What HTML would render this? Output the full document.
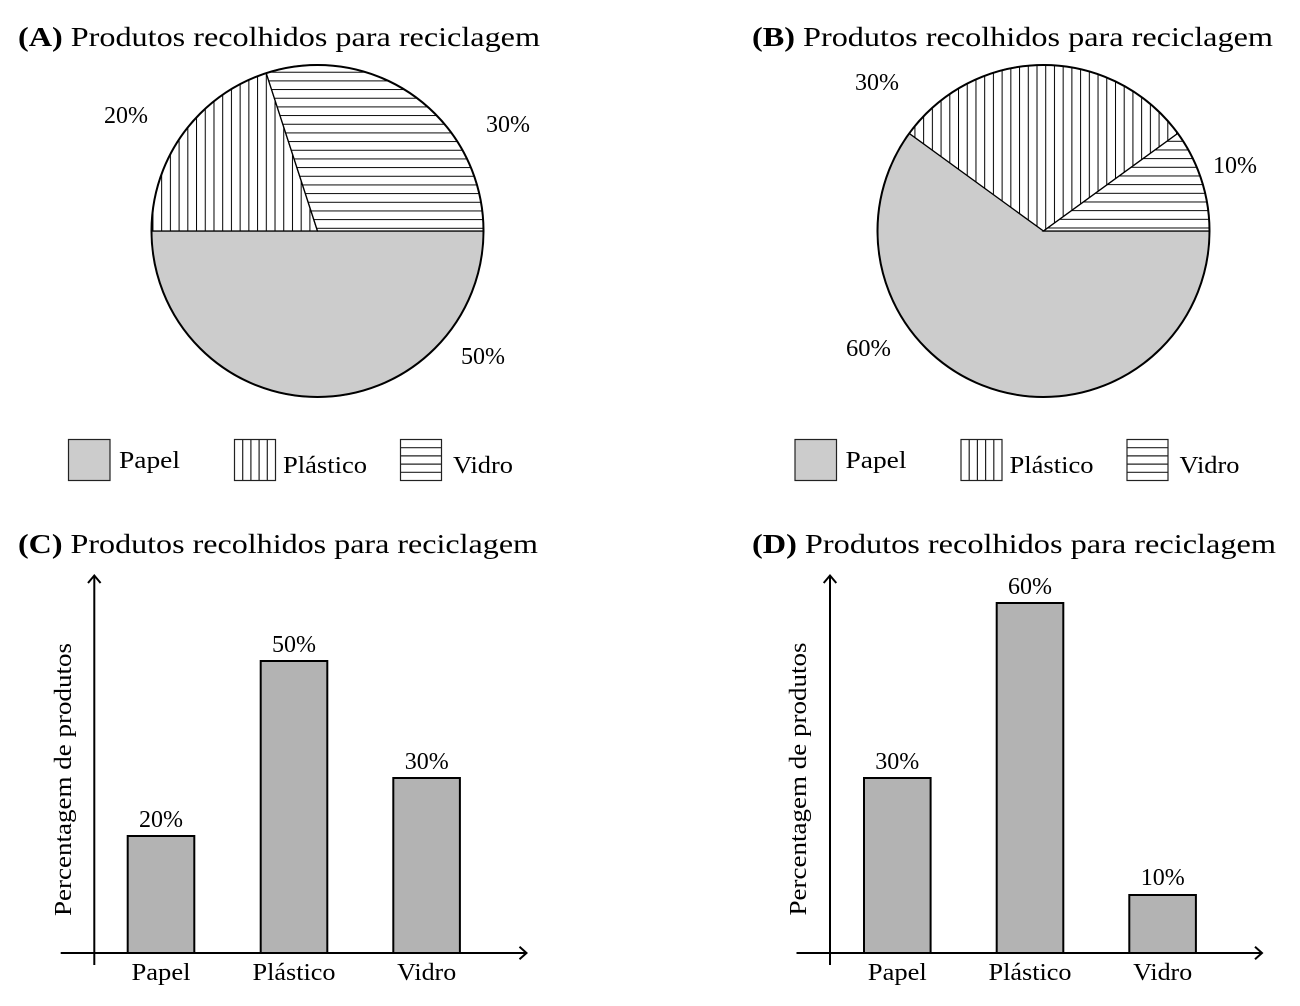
<!DOCTYPE html>
<html>
<head>
<meta charset="utf-8">
<style>
html,body{margin:0;padding:0;background:#fff;}
svg{display:block;}
text{font-family:"Liberation Serif", serif;fill:#000;}
</style>
</head>
<body>
<svg width="1300" height="1006" viewBox="0 0 1300 1006" xmlns="http://www.w3.org/2000/svg">
<defs>
  <pattern id="vA" patternUnits="userSpaceOnUse" x="265.8" y="0" width="8.72" height="20">
    <line x1="0.5" y1="0" x2="0.5" y2="20" stroke="#000" stroke-width="1"/>
  </pattern>
  <pattern id="hA" patternUnits="userSpaceOnUse" x="0" y="227.8" width="20" height="8.67">
    <line x1="0" y1="0.5" x2="20" y2="0.5" stroke="#000" stroke-width="1"/>
  </pattern>
  <pattern id="vB" patternUnits="userSpaceOnUse" x="1036.5" y="0" width="8.72" height="20">
    <line x1="0.5" y1="0" x2="0.5" y2="20" stroke="#000" stroke-width="1"/>
  </pattern>
  <pattern id="hB" patternUnits="userSpaceOnUse" x="0" y="227.5" width="20" height="8.67">
    <line x1="0" y1="0.5" x2="20" y2="0.5" stroke="#000" stroke-width="1"/>
  </pattern>
</defs>

<!-- ===== Titles ===== -->
<text x="18" y="46" font-size="27" textLength="522" lengthAdjust="spacingAndGlyphs"><tspan font-weight="bold">(A)</tspan> Produtos recolhidos para reciclagem</text>
<text x="752" y="46" font-size="27" textLength="521" lengthAdjust="spacingAndGlyphs"><tspan font-weight="bold">(B)</tspan> Produtos recolhidos para reciclagem</text>
<text x="18" y="553" font-size="27" textLength="520" lengthAdjust="spacingAndGlyphs"><tspan font-weight="bold">(C)</tspan> Produtos recolhidos para reciclagem</text>
<text x="752" y="553" font-size="27" textLength="524" lengthAdjust="spacingAndGlyphs"><tspan font-weight="bold">(D)</tspan> Produtos recolhidos para reciclagem</text>

<!-- ===== Pie A ===== -->
<g>
  <path d="M151.5,231 A166,166 0 0 0 483.5,231 Z" fill="#cccccc" stroke="#000" stroke-width="1.3"/>
  <path d="M317.5,231 L151.5,231 A166,166 0 0 1 266.2,73.1 Z" fill="#fff"/>
  <path d="M317.5,231 L151.5,231 A166,166 0 0 1 266.2,73.1 Z" fill="url(#vA)" stroke="#000" stroke-width="1.3"/>
  <path d="M317.5,231 L266.2,73.1 A166,166 0 0 1 483.5,231 Z" fill="#fff"/>
  <path d="M317.5,231 L266.2,73.1 A166,166 0 0 1 483.5,231 Z" fill="url(#hA)" stroke="#000" stroke-width="1.3"/>
  <circle cx="317.5" cy="231" r="166" fill="none" stroke="#000" stroke-width="2"/>
</g>
<text x="104" y="123" font-size="24" textLength="44" lengthAdjust="spacingAndGlyphs">20%</text>
<text x="486" y="132" font-size="24" textLength="44" lengthAdjust="spacingAndGlyphs">30%</text>
<text x="461" y="364" font-size="24" textLength="44" lengthAdjust="spacingAndGlyphs">50%</text>

<!-- ===== Pie B ===== -->
<g>
  <path d="M1043.5,231 L909.2,133.4 A166,166 0 1 0 1209.5,231 Z" fill="#cccccc" stroke="#000" stroke-width="1.3"/>
  <path d="M1043.5,231 L1177.8,133.4 A166,166 0 0 0 909.2,133.4 Z" fill="#fff"/>
  <path d="M1043.5,231 L1177.8,133.4 A166,166 0 0 0 909.2,133.4 Z" fill="url(#vB)" stroke="#000" stroke-width="1.3"/>
  <path d="M1043.5,231 L1209.5,231 A166,166 0 0 0 1177.8,133.4 Z" fill="#fff"/>
  <path d="M1043.5,231 L1209.5,231 A166,166 0 0 0 1177.8,133.4 Z" fill="url(#hB)" stroke="#000" stroke-width="1.3"/>
  <circle cx="1043.5" cy="231" r="166" fill="none" stroke="#000" stroke-width="2"/>
</g>
<text x="855" y="90" font-size="24" textLength="44" lengthAdjust="spacingAndGlyphs">30%</text>
<text x="1213" y="173" font-size="24" textLength="44" lengthAdjust="spacingAndGlyphs">10%</text>
<text x="846" y="356" font-size="24" textLength="45" lengthAdjust="spacingAndGlyphs">60%</text>

<!-- ===== Legend A ===== -->
<g stroke="#222" stroke-width="1.2">
  <rect x="68.5" y="439.5" width="41.5" height="41" fill="#cccccc"/>
  <rect x="234.5" y="439.5" width="41" height="41" fill="#fff"/>
  <line x1="242.7" y1="439.5" x2="242.7" y2="480.5"/>
  <line x1="250.9" y1="439.5" x2="250.9" y2="480.5"/>
  <line x1="259.1" y1="439.5" x2="259.1" y2="480.5"/>
  <line x1="267.3" y1="439.5" x2="267.3" y2="480.5"/>
  <rect x="400.5" y="439.5" width="41" height="41" fill="#fff"/>
  <line x1="400.5" y1="447.7" x2="441.5" y2="447.7"/>
  <line x1="400.5" y1="455.9" x2="441.5" y2="455.9"/>
  <line x1="400.5" y1="464.1" x2="441.5" y2="464.1"/>
  <line x1="400.5" y1="472.3" x2="441.5" y2="472.3"/>
</g>
<text x="119" y="468" font-size="24" textLength="61" lengthAdjust="spacingAndGlyphs">Papel</text>
<text x="283" y="473" font-size="24" textLength="84" lengthAdjust="spacingAndGlyphs">Plástico</text>
<text x="453" y="473" font-size="24" textLength="60" lengthAdjust="spacingAndGlyphs">Vidro</text>

<!-- ===== Legend B ===== -->
<g stroke="#222" stroke-width="1.2" transform="translate(726.5,0)">
  <rect x="68.5" y="439.5" width="41.5" height="41" fill="#cccccc"/>
  <rect x="234.5" y="439.5" width="41" height="41" fill="#fff"/>
  <line x1="242.7" y1="439.5" x2="242.7" y2="480.5"/>
  <line x1="250.9" y1="439.5" x2="250.9" y2="480.5"/>
  <line x1="259.1" y1="439.5" x2="259.1" y2="480.5"/>
  <line x1="267.3" y1="439.5" x2="267.3" y2="480.5"/>
  <rect x="400.5" y="439.5" width="41" height="41" fill="#fff"/>
  <line x1="400.5" y1="447.7" x2="441.5" y2="447.7"/>
  <line x1="400.5" y1="455.9" x2="441.5" y2="455.9"/>
  <line x1="400.5" y1="464.1" x2="441.5" y2="464.1"/>
  <line x1="400.5" y1="472.3" x2="441.5" y2="472.3"/>
</g>
<text x="845.5" y="468" font-size="24" textLength="61" lengthAdjust="spacingAndGlyphs">Papel</text>
<text x="1009.5" y="473" font-size="24" textLength="84" lengthAdjust="spacingAndGlyphs">Plástico</text>
<text x="1179.5" y="473" font-size="24" textLength="60" lengthAdjust="spacingAndGlyphs">Vidro</text>

<!-- ===== Bar chart C ===== -->
<g fill="#b3b3b3" stroke="#000" stroke-width="2">
  <rect x="127.7" y="836" width="66.6" height="117"/>
  <rect x="260.7" y="661" width="66.6" height="292"/>
  <rect x="393.3" y="778" width="66.6" height="175"/>
</g>
<g stroke="#000" stroke-width="2" fill="none">
  <line x1="94.3" y1="576" x2="94.3" y2="965"/>
  <polyline points="88,583 94.3,575.5 100.6,583"/>
  <line x1="60.7" y1="953" x2="526" y2="953"/>
  <polyline points="519.5,946.7 526.5,953 519.5,959.3"/>
</g>
<text x="161" y="827" font-size="24" text-anchor="middle" textLength="44" lengthAdjust="spacingAndGlyphs">20%</text>
<text x="294" y="652" font-size="24" text-anchor="middle" textLength="44" lengthAdjust="spacingAndGlyphs">50%</text>
<text x="426.7" y="769" font-size="24" text-anchor="middle" textLength="44" lengthAdjust="spacingAndGlyphs">30%</text>
<text x="161" y="980" font-size="24" text-anchor="middle" textLength="59" lengthAdjust="spacingAndGlyphs">Papel</text>
<text x="294" y="980" font-size="24" text-anchor="middle" textLength="83" lengthAdjust="spacingAndGlyphs">Plástico</text>
<text x="426.7" y="980" font-size="24" text-anchor="middle" textLength="59" lengthAdjust="spacingAndGlyphs">Vidro</text>
<text transform="translate(71,779.5) rotate(-90)" font-size="24" text-anchor="middle" textLength="273" lengthAdjust="spacingAndGlyphs">Percentagem de produtos</text>

<!-- ===== Bar chart D ===== -->
<g fill="#b3b3b3" stroke="#000" stroke-width="2">
  <rect x="864" y="778" width="66.6" height="175"/>
  <rect x="996.7" y="603" width="66.6" height="350"/>
  <rect x="1129.3" y="895" width="66.6" height="58"/>
</g>
<g stroke="#000" stroke-width="2" fill="none">
  <line x1="830" y1="576" x2="830" y2="965"/>
  <polyline points="823.7,583 830,575.5 836.3,583"/>
  <line x1="796.5" y1="953" x2="1261.5" y2="953"/>
  <polyline points="1255,946.7 1262,953 1255,959.3"/>
</g>
<text x="897.3" y="769" font-size="24" text-anchor="middle" textLength="44" lengthAdjust="spacingAndGlyphs">30%</text>
<text x="1030" y="594" font-size="24" text-anchor="middle" textLength="44" lengthAdjust="spacingAndGlyphs">60%</text>
<text x="1162.7" y="885" font-size="24" text-anchor="middle" textLength="44" lengthAdjust="spacingAndGlyphs">10%</text>
<text x="897.3" y="980" font-size="24" text-anchor="middle" textLength="59" lengthAdjust="spacingAndGlyphs">Papel</text>
<text x="1030" y="980" font-size="24" text-anchor="middle" textLength="83" lengthAdjust="spacingAndGlyphs">Plástico</text>
<text x="1162.7" y="980" font-size="24" text-anchor="middle" textLength="59" lengthAdjust="spacingAndGlyphs">Vidro</text>
<text transform="translate(806,779) rotate(-90)" font-size="24" text-anchor="middle" textLength="273" lengthAdjust="spacingAndGlyphs">Percentagem de produtos</text>
</svg>
</body>
</html>
